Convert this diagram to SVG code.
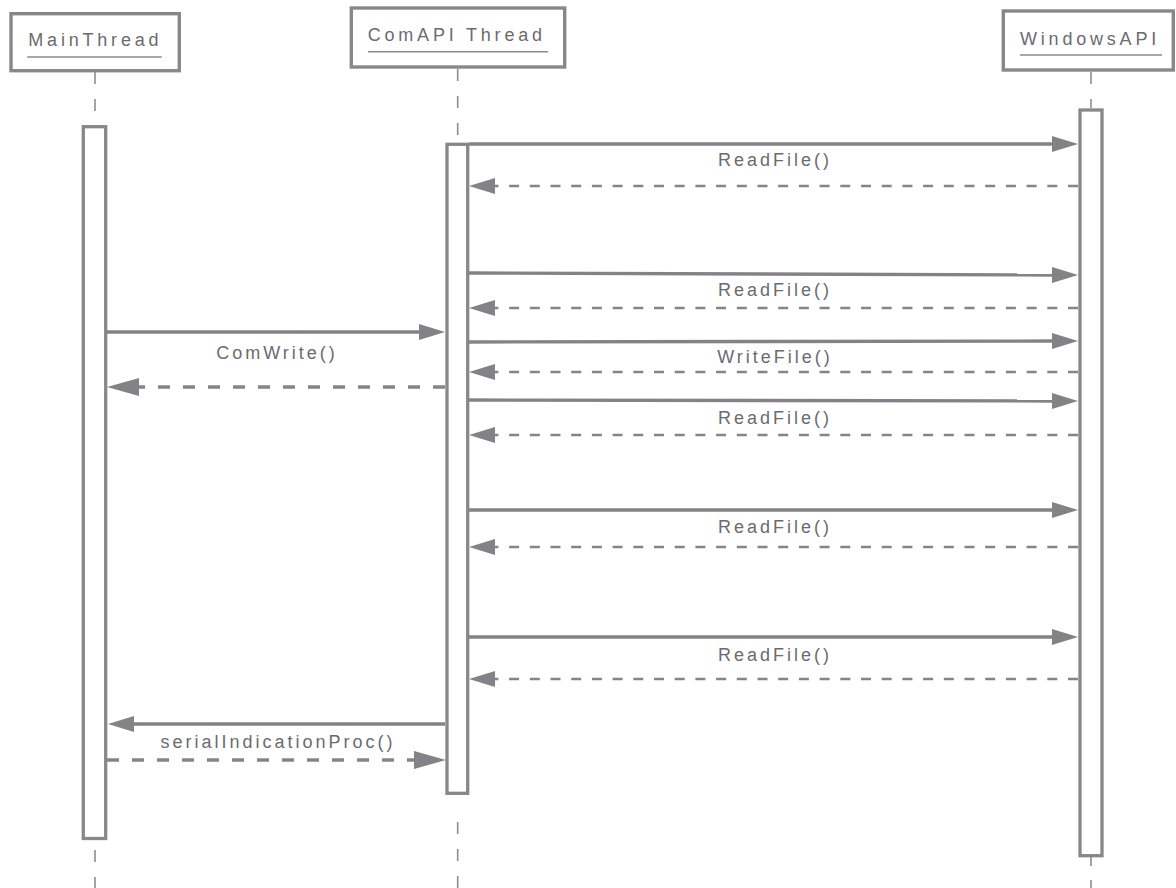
<svg xmlns="http://www.w3.org/2000/svg" width="1176" height="888" viewBox="0 0 1176 888">
<style>
  .box { fill: #ffffff; stroke: #88888b; stroke-width: 3.4; }
  .act { fill: #ffffff; stroke: #88888b; stroke-width: 3.3; }
  .life { stroke: #8e8e91; stroke-width: 1.6; stroke-dasharray: 12 15; fill: none; }
  .uline { stroke: #8a8a8d; stroke-width: 1.4; }
  .hdr { font-family: "Liberation Sans", Arial, Helvetica, sans-serif; font-size: 18px; letter-spacing: 3.8px; fill: #6b6b6f; }
  .lbl { font-family: "Liberation Sans", Arial, Helvetica, sans-serif; font-size: 18px; letter-spacing: 3px; fill: #6b6b6f; text-anchor: middle; }
  .sync { stroke: #838387; stroke-width: 3.3; fill: none; }
  .ret { stroke: #858589; stroke-width: 2.7; fill: none; stroke-dasharray: 10 10.7; }
  .retL { stroke: #858589; stroke-width: 3.3; fill: none; stroke-dasharray: 12 13; }
</style>
<defs>
  <marker id="ah" viewBox="0 0 26 16" refX="6" refY="8" markerWidth="26" markerHeight="16" orient="auto" markerUnits="userSpaceOnUse">
    <path d="M0,0 L26,8 L0,16 z" fill="#838387"/>
  </marker>
  <marker id="ahL" viewBox="0 0 32 18" refX="8" refY="9" markerWidth="32" markerHeight="18" orient="auto" markerUnits="userSpaceOnUse">
    <path d="M0,0 L32,9 L0,18 z" fill="#838387"/>
  </marker>
</defs>

<g id="lifelines">
  <line class="life" x1="95" y1="72" x2="95" y2="125"/>
  <line class="life" x1="95" y1="850" x2="95" y2="888"/>
  <line class="life" x1="457.7" y1="69" x2="457.7" y2="143"/>
  <line class="life" x1="457.7" y1="822" x2="457.7" y2="888"/>
  <line class="life" x1="1091" y1="72" x2="1091" y2="108"/>
  <line class="life" x1="1091" y1="857" x2="1091" y2="888" style="stroke-dasharray: 9 14"/>
</g>

<g id="MainThread">
  <rect class="box" x="11" y="13.7" width="168.3" height="57"/>
  <text class="hdr" x="28.3" y="46">MainThread</text>
  <line class="uline" x1="27.3" y1="57" x2="161.7" y2="57"/>
  <rect class="act" x="83.3" y="126.7" width="22.4" height="711.8"/>
</g>

<g id="ComAPIThread">
  <rect class="box" x="351.3" y="8" width="213.4" height="59"/>
  <text class="hdr" x="367.7" y="41">ComAPI Thread</text>
  <line class="uline" x1="368" y1="51.7" x2="548" y2="51.7"/>
  <rect class="act" x="447" y="144.3" width="20.7" height="649"/>
</g>

<g id="WindowsAPI">
  <rect class="box" x="1003.3" y="11" width="170" height="59"/>
  <text class="hdr" x="1020" y="44.5">WindowsAPI</text>
  <line class="uline" x1="1020" y1="55" x2="1162" y2="55"/>
  <rect class="act" x="1080" y="110" width="22" height="745.7"/>
</g>

<g id="connectors">
  <path class="sync" d="M469,144 L1058,144" marker-end="url(#ah)"/>
  <path class="ret" d="M1078,186 L489,186" marker-end="url(#ah)"/>

  <path class="sync" d="M469,273 L1058,275" marker-end="url(#ah)"/>
  <path class="ret" d="M1078,308 L489,308" marker-end="url(#ah)"/>

  <path class="sync" d="M106,332 L425,332" marker-end="url(#ah)"/>
  <path class="retL" d="M445,387 L131,387" marker-end="url(#ahL)"/>

  <path class="sync" d="M469,342 L1058,341" marker-end="url(#ah)"/>
  <path class="ret" d="M1078,372 L489,372" marker-end="url(#ah)"/>

  <path class="sync" d="M469,400 L1058,401" marker-end="url(#ah)"/>
  <path class="ret" d="M1078,435 L489,435" marker-end="url(#ah)"/>

  <path class="sync" d="M469,510 L1058,510" marker-end="url(#ah)"/>
  <path class="ret" d="M1078,547 L489,547" marker-end="url(#ah)"/>

  <path class="sync" d="M469,637 L1058,637" marker-end="url(#ah)"/>
  <path class="ret" d="M1078,679 L489,679" marker-end="url(#ah)"/>

  <path class="sync" d="M445,724 L128,724" marker-end="url(#ah)"/>
  <path class="retL" d="M107,760 L422,760" marker-end="url(#ahL)"/>
</g>

<g id="labels">
  <text class="lbl" x="775" y="166">ReadFile()</text>
  <text class="lbl" x="775" y="296">ReadFile()</text>
  <text class="lbl" x="277" y="359">ComWrite()</text>
  <text class="lbl" x="775" y="363">WriteFile()</text>
  <text class="lbl" x="775" y="424">ReadFile()</text>
  <text class="lbl" x="775" y="533">ReadFile()</text>
  <text class="lbl" x="775" y="661">ReadFile()</text>
  <text class="lbl" x="278" y="748">serialIndicationProc()</text>
</g>
</svg>
